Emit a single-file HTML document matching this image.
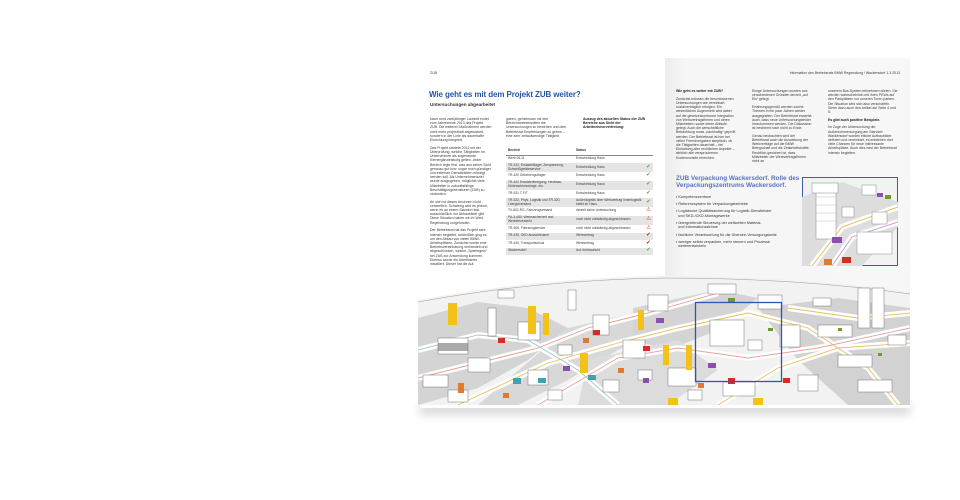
<!DOCTYPE html>
<html><head><meta charset="utf-8"><style>
body{margin:0;width:960px;height:500px;background:#fff;position:relative;overflow:hidden;font-family:"Liberation Sans",sans-serif;}
.a{position:absolute;}
.t{font-size:3.5px;line-height:4.2px;color:#3a3a3a;}
.t p{margin:0 0 3.5px 0;}
table{border-collapse:collapse;font-size:3.3px;color:#3a3a3a;}
td{padding:0 2px;height:6.5px;border-bottom:1px solid #fff;line-height:3.6px;}
td.g{background:#e4e4e4;}
</style></head><body>
<div class="a" style="left:420px;top:398px;width:490px;height:10px;box-shadow:0 6px 10px rgba(0,0,0,0.18);"></div>
<div class="a" style="left:418px;top:58px;width:247px;height:347px;background:#fff;"></div>
<div class="a" style="left:665px;top:58px;width:245px;height:347px;background:linear-gradient(90deg,#ececec,#f6f6f6 8%,#f7f7f7);"></div>

<div class="a t" style="left:430px;top:71px;">ZUB</div>
<div class="a t" style="left:760px;top:71px;width:140px;text-align:right;">Information des Betriebsrats BMW Regensburg / Wackersdorf 1.3.2013</div>
<div class="a" style="left:429px;top:90px;font-size:8px;font-weight:bold;color:#2456a6;white-space:nowrap;letter-spacing:-0.1px;">Wie geht es mit dem Projekt ZUB weiter?</div>
<div class="a" style="left:430px;top:102px;font-size:4.6px;font-weight:bold;color:#333;">Untersuchungen abgearbeitet</div>

<div class="a t" style="left:430px;top:117px;width:62px;">
<p>Nach rund zweijähriger Laufzeit endet zum Jahresende 2013 das Projekt ZUB. Die weiteren Maßnahmen werden nicht mehr projekthaft abgewickelt, sondern in der Linie als dauerhafte Einrichtung integriert.</p>
<p>Das Projekt startete 2011 mit der Überprüfung, welche Tätigkeiten im Unternehmen als sogenannte Kernergänzleistung gelten. Jeder Bereich legte fest, was aus seiner Sicht genauso gut bzw. sogar noch günstiger von externen Dienstleistern erledigt werden soll. Als Unternehmensziel wurde ausgegeben, möglichst viele Mitarbeiter in zukunftsfähige Beschäftigungsstrukturen (ZUB) zu verändern.</p>
<p>An sich ist dieses Ansinnen nicht verwerflich. Schwierig wird es jedoch, wenn es an einem Standort fast ausschließlich nur Abbaubilder gibt. Diese Situation haben wir im Werk Regensburg vorgefunden.</p>
<p>Der Betriebsrat hat das Projekt sehr intensiv begleitet, schließlich ging es um den Abbau von vielen BMW-Arbeitsplätzen. Zunächst wurde eine Betriebsvereinbarung verhandelt und abgeschlossen, welche „Spielregeln“ bei ZUB zur Anwendung kommen. Ebenso wurde ein Arbeitskreis installiert. Dieser hat die Auf-</p>
</div>
<div class="a t" style="left:506px;top:117px;width:62px;">gaben, gemeinsam mit den Bereichsbetriebsräten die Untersuchungen zu bewerten und dem Betriebsrat Empfehlungen zu geben – eine sehr zeitaufwendige Tätigkeit.</div>
<div class="a t" style="left:583px;top:117px;width:68px;font-weight:bold;color:#222;">Auszug des aktuellen Status der ZUB Bereiche aus Sicht der Arbeitnehmervertretung:</div>

<table class="a" style="left:506px;top:148px;width:147px;">
<tr><td style="font-weight:bold;color:#333;border-bottom:1px solid #888;width:64px;">Bereich</td><td style="font-weight:bold;color:#333;border-bottom:1px solid #888;">Status</td><td style="border-bottom:1px solid #888;"></td></tr>
<tr><td>Werk 06.11</td><td>Entscheidung Haus</td><td></td></tr>
<tr><td class="g" style="height:9px">TR-312, Ersatzteillager, Zerspannung, Schweißgeräteservice</td><td class="g">Entscheidung Haus</td><td class="g" style="color:#6a3;font-size:5.5px">✔</td></tr>
<tr><td>TR-420 Gefahrengutlager</td><td>Entscheidung Haus</td><td style="color:#6a3;font-size:5.5px">✔</td></tr>
<tr><td class="g" style="height:9px">TR-402 Ersatzteilfertigung, Heckbau, Hinterachsmontage, etc.</td><td class="g">Entscheidung Haus</td><td class="g" style="color:#6a3;font-size:5.5px">✔</td></tr>
<tr><td>TR-531 T-FIT</td><td>Entscheidung Haus</td><td style="color:#6a3;font-size:5.5px">✔</td></tr>
<tr><td class="g" style="height:9px">TR-322, Phys. Logistik und TR-320, Leergutversand</td><td class="g">Außenlogistik über Werkvertrag Innenlogistik bleibt im Haus</td><td class="g" style="color:#6a3;font-size:5.5px">✔</td></tr>
<tr><td>TV-802-RG, Fahrzeugversand</td><td>derzeit keine Untersuchung</td><td style="color:#c33;font-size:5.5px">⚠</td></tr>
<tr><td class="g" style="height:9px">PA-3-480, Werkssicherheit und Werksfeuerwehr</td><td class="g">noch nicht vollständig abgeschlossen</td><td class="g" style="color:#c33;font-size:5.5px">⚠</td></tr>
<tr><td>TR-506, Fahrzeugservice</td><td>noch nicht vollständig abgeschlossen</td><td style="color:#c33;font-size:5.5px">⚠</td></tr>
<tr><td class="g">TR-430, SKD Ausschleusen</td><td class="g">Werkvertrag</td><td class="g" style="color:#b22;font-size:5.5px">✔</td></tr>
<tr><td>TR-440, Transportschutz</td><td>Werkvertrag</td><td style="color:#b22;font-size:5.5px">✔</td></tr>
<tr><td class="g">Wackersdorf</td><td class="g">Auf-/Umbauhold</td><td class="g" style="color:#6a3;font-size:5.5px">✔</td></tr>
</table>

<div class="a t" style="left:676px;top:89px;width:60px;">
<p style="font-weight:bold;color:#222;">Wie geht es weiter mit ZUB?</p>
<p>Zunächst müssen die beschlossenen Untersuchungen wie vereinbart sozialverträglich erfolgen. Ein wesentliches Augenmerk wird dabei auf die gesetzeskonforme Integration von Werkvertragsfirmen und deren Mitarbeitern sowie deren Abläufe gelegt. Auch die wirtschaftliche Betrachtung muss „nachhaltig“ geprüft werden. Der Betriebsrat ist hier bei vielen Fremdvergaben skeptisch, ob die Tätigkeiten dauerhaft – bei Einhaltung aller rechtlichen Aspekte – wirklich alle versprochenen Kostenvorteile erreichen.</p></div>
<div class="a t" style="left:752px;top:89px;width:60px;">
<p>Einige Untersuchungen wurden aus verschiedenen Gründen derzeit „auf Eis“ gelegt.</p>
<p>Erfahrungsgemäß werden solche Themen in ein paar Jahren wieder ausgegraben. Der Betriebsrat erwartet auch, dass neue Untersuchungsfelder hinzukommen werden. Die Diskussion ist bestimmt noch nicht zu Ende.</p>
<p>Genau beobachten wird der Betriebsrat auch die Auswirkung der Werkverträge auf die BMW Belegschaft und die Zeitarbeitskräfte. Rechtlich gesichert ist, dass Mitarbeiter der Werkvertragsfirmen nicht an</p></div>
<div class="a t" style="left:828px;top:89px;width:70px;">
<p>unserem Bus-System teilnehmen dürfen. Sie werden wahrscheinlich mit ihren PKWs auf den Parkplätzen vor unseren Toren parken. Die Situation wird sich also verschärfen. Siehe dazu auch den Artikel auf Seite 4 und 5.</p>
<p style="font-weight:bold;color:#222;">Es gibt auch positive Beispiele.</p>
<p>Im Zuge der Untersuchung der Außenlohnversorgung am Standort Wackersdorf wurden etliche Aufbaubilder definiert und vereinbart, es entstehen dort viele Chancen für neue interessante Arbeitsplätze. Auch dies wird der Betriebsrat intensiv begleiten.</p></div>

<div class="a" style="left:676px;top:175px;white-space:nowrap;font-size:6.4px;line-height:7.4px;font-weight:bold;color:#5a70c8;">ZUB Verpackung Wackersdorf. Rolle des<br>Verpackungszentrums Wackersdorf.</div>
<div class="a" style="left:676px;top:195px;width:125px;font-size:3.8px;line-height:4.6px;color:#333;">
<div style="margin-bottom:2.5px">▪ Kompetenzzentrum</div>
<div style="margin-bottom:2.5px">▪ Referenzsystem für Verpackungsbetriebe</div>
<div style="margin-bottom:2.5px">▪ Logistische Qualitätssicherung für Logistik-Dienstleister<br>&nbsp;&nbsp;und SKD-/CKD-Montagewerke</div>
<div style="margin-bottom:2.5px">▪ übergreifende Steuerung der weltweiten Material-<br>&nbsp;&nbsp;und Informationsströme</div>
<div style="margin-bottom:2.5px">▪ fachliche Verantwortung für die Übersee-Versorgungskette</div>
<div>▪ weniger selbst verpacken, mehr steuern und Prozesse<br>&nbsp;&nbsp;weiterentwickeln</div></div>

<svg class="a" style="left:802px;top:177px" width="96" height="89" viewBox="0 0 96 89">
<rect x="0.5" y="0.5" width="95" height="88" fill="#f2f2f2" stroke="#3b5cb0"/>
<polygon points="0,20 40,5 96,25 96,50 60,89 0,89" fill="#ddd"/>
<path d="M10,89 L40,50 L96,30" stroke="#fff" stroke-width="6" fill="none"/>
<path d="M10,89 L40,50 L96,30" stroke="#e9c05a" stroke-width="1" fill="none"/>
<path d="M30,89 L50,60 L96,45" stroke="#fff" stroke-width="6" fill="none"/>
<path d="M30,89 L50,60 L96,45" stroke="#c9a0d0" stroke-width="1" fill="none"/>
<g fill="#fff" stroke="#888" stroke-width="0.5">
<rect x="14" y="12" width="20" height="50"/><rect x="10" y="6" width="26" height="10"/><rect x="55" y="55" width="35" height="22"/>
<rect x="40" y="30" width="12" height="10"/><rect x="60" y="8" width="14" height="10"/><rect x="70" y="35" width="15" height="12"/></g>
<g stroke="#aaa" stroke-width="0.4"><line x1="14" y1="20" x2="34" y2="20"/><line x1="14" y1="28" x2="34" y2="28"/><line x1="14" y1="36" x2="34" y2="36"/><line x1="14" y1="44" x2="34" y2="44"/></g>
<rect x="30" y="60" width="10" height="6" fill="#8a4fb0"/>
<rect x="40" y="80" width="9" height="6" fill="#d03020"/>
<rect x="22" y="82" width="8" height="6" fill="#e07a30"/>
<rect x="75" y="16" width="6" height="4" fill="#8a4fb0"/><rect x="83" y="18" width="6" height="4" fill="#6a9a30"/>
</svg>

<div class="a t" style="left:412px;top:335px;transform:rotate(-90deg);font-size:3px;">Quelle: TV-1</div>

<svg class="a" style="left:418px;top:270px" width="492" height="135" viewBox="0 0 492 135">
<path d="M0,30 Q120,8 246,6 Q380,6 492,22 L492,135 L0,135 Z" fill="#f2f2f2"/>
<path d="M0,32 Q120,10 246,8 Q380,8 492,24" stroke="#999" stroke-width="0.5" fill="none"/>
<polygon points="0,48 60,32 110,38 150,58 110,90 60,118 0,135" fill="#d4d4d4"/>
<polygon points="150,58 240,38 260,52 200,80 150,110 100,135 60,135" fill="#d8d8d8"/>
<polygon points="215,38 300,20 340,28 300,60 250,80 215,70" fill="#d4d4d4"/>
<polygon points="340,38 420,28 492,38 492,135 430,135 380,90" fill="#d2d2d2"/>
<polygon points="170,90 260,70 300,100 250,135 160,135" fill="#dcdcdc"/>
<g fill="none" stroke="#fff" stroke-width="6">
<path d="M0,108 L120,78 L170,58 L230,43 L300,23"/>
<path d="M40,135 L130,93 L200,73 L260,58 L330,43 L390,58 L450,98 L480,135"/>
<path d="M120,135 L200,88 L260,78 L330,88 L400,78 L492,58"/>
<path d="M300,135 L360,98 L420,78 L492,73"/>
<path d="M370,38 L440,48 L492,43"/>
<path d="M0,80 L60,65 L110,70 L160,100 L200,135"/></g>
<g fill="none" stroke-width="0.9">
<path d="M0,108 L120,78 L170,58 L230,43 L300,23" stroke="#e89a80"/>
<path d="M40,135 L130,93 L200,73 L260,58 L330,43 L390,58 L450,98 L480,135" stroke="#e9c05a"/>
<path d="M120,135 L200,88 L260,78 L330,88 L400,78 L492,58" stroke="#e8a0a0"/>
<path d="M300,135 L360,98 L420,78 L492,73" stroke="#e9c05a"/>
<path d="M370,38 L440,48 L492,43" stroke="#e9c05a"/>
<path d="M0,80 L60,65 L110,70 L160,100 L200,135" stroke="#9cc8d0"/></g>
<g fill="#fff" stroke="#666" stroke-width="0.45">
<rect x="20" y="68" width="30" height="16"/><rect x="50" y="88" width="22" height="14"/><rect x="70" y="38" width="8" height="28"/>
<rect x="100" y="52" width="22" height="18"/><rect x="110" y="100" width="20" height="15"/><rect x="175" y="45" width="16" height="20"/>
<rect x="205" y="70" width="22" height="18"/><rect x="250" y="98" width="28" height="18"/><rect x="292" y="50" width="34" height="26"/>
<rect x="340" y="25" width="24" height="14"/><rect x="362" y="55" width="20" height="22"/><rect x="400" y="55" width="34" height="12"/>
<rect x="420" y="85" width="34" height="12"/><rect x="440" y="110" width="34" height="12"/><rect x="305" y="112" width="32" height="14"/>
<rect x="290" y="14" width="28" height="10"/><rect x="230" y="25" width="20" height="16"/><rect x="150" y="20" width="8" height="20"/>
<rect x="440" y="18" width="12" height="40"/><rect x="454" y="18" width="12" height="40"/><rect x="380" y="105" width="20" height="16"/>
<rect x="5" y="105" width="25" height="12"/><rect x="30" y="120" width="20" height="12"/><rect x="140" y="75" width="14" height="10"/>
<rect x="185" y="110" width="16" height="12"/><rect x="220" y="100" width="14" height="10"/><rect x="270" y="120" width="14" height="10"/>
<rect x="130" y="120" width="14" height="10"/><rect x="330" y="70" width="14" height="10"/><rect x="470" y="65" width="18" height="10"/>
<rect x="395" y="28" width="18" height="8"/><rect x="80" y="20" width="16" height="8"/></g>
<rect x="20" y="73" width="30" height="8" fill="#555" opacity="0.5"/>
<g fill="#f2c21a"><rect x="30" y="33" width="9" height="22"/><rect x="110" y="36" width="8" height="28"/><rect x="125" y="43" width="6" height="22"/>
<rect x="162" y="83" width="8" height="20"/><rect x="220" y="40" width="6" height="20"/><rect x="245" y="75" width="6" height="20"/><rect x="268" y="75" width="6" height="25"/><rect x="335" y="128" width="10" height="7"/><rect x="250" y="128" width="10" height="7"/></g>
<g fill="#e07a30"><rect x="40" y="113" width="6" height="10"/><rect x="165" y="68" width="6" height="5"/><rect x="200" y="98" width="6" height="5"/><rect x="280" y="113" width="6" height="5"/><rect x="85" y="123" width="6" height="5"/></g>
<g fill="#d03020"><rect x="80" y="68" width="7" height="5"/><rect x="175" y="60" width="7" height="5"/><rect x="225" y="76" width="7" height="5"/><rect x="310" y="108" width="7" height="6"/><rect x="365" y="108" width="7" height="5"/></g>
<g fill="#8a4fb0"><rect x="145" y="96" width="7" height="5"/><rect x="238" y="48" width="8" height="5"/><rect x="290" y="93" width="8" height="5"/><rect x="225" y="108" width="6" height="5"/></g>
<g fill="#3aa5b0"><rect x="95" y="108" width="8" height="6"/><rect x="120" y="108" width="8" height="5"/><rect x="170" y="105" width="8" height="5"/></g>
<g fill="#6a9a30"><rect x="310" y="28" width="7" height="4"/><rect x="350" y="58" width="5" height="3"/><rect x="420" y="58" width="4" height="3"/><rect x="460" y="83" width="4" height="3"/></g>
<rect x="277.5" y="32.5" width="86" height="79" fill="none" stroke="#2e55b0" stroke-width="1.3"/>
</svg>
</body></html>
